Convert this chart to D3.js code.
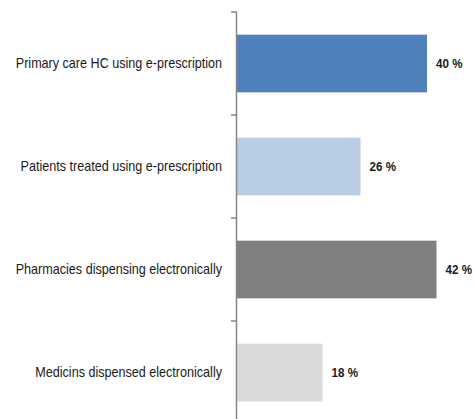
<!DOCTYPE html>
<html>
<head>
<meta charset="utf-8">
<script src="https://cdn.jsdelivr.net/npm/d3@7"></script>
<style>
  html, body { margin: 0; padding: 0; background: #fff; }
  svg { display: block; }
</style>
</head>
<body>
<svg id="chart" width="474" height="419"></svg>
<script>
const categories = [
  "Primary care HC using e-prescription",
  "Patients treated using e-prescription",
  "Pharmacies dispensing electronically",
  "Medicins dispensed electronically"
];
const values = [40, 26, 42, 18];
const barColors = ["#4F81BD", "#B9CDE5", "#808080", "#D9D9D9"];

const svg = d3.select("#chart");
const margin = { top: 12, left: 237 };
const bandStep = 103;
const plotH = bandStep * categories.length;
const narrow = 0.9; // horizontal squeeze to emulate a condensed face

const x = d3.scaleLinear().domain([0, 45]).range([0, 213.75]);
const y = d3.scaleBand().domain(categories).range([0, plotH]).paddingInner(0.44).paddingOuter(0.22);

const g = svg.append("g").attr("transform", `translate(${margin.left},${margin.top})`);

g.selectAll("rect.bar")
  .data(categories)
  .join("rect")
  .attr("class", "bar")
  .attr("x", 0)
  .attr("y", d => y(d))
  .attr("width", (d, i) => x(values[i]))
  .attr("height", y.bandwidth())
  .attr("fill", (d, i) => barColors[i]);

g.selectAll("text.val")
  .data(categories)
  .join("text")
  .attr("class", "val")
  .attr("transform", (d, i) => `translate(${x(values[i]) + 9},${y(d) + y.bandwidth() / 2}) scale(0.93,1)`)
  .attr("dy", "0.35em")
  .attr("font-family", "'Liberation Sans', Arial, sans-serif")
  .attr("font-weight", "bold")
  .attr("font-size", 12.5)
  .attr("fill", "#1a1a1a")
  .text((d, i) => values[i] + " %");

// category axis with ticks on band boundaries
const axisG = g.append("g");
axisG.append("line")
  .attr("x1", -0.5).attr("x2", -0.5)
  .attr("y1", 0).attr("y2", plotH)
  .attr("stroke", "#868686").attr("stroke-width", 1.5);
axisG.selectAll("line.tick")
  .data(d3.range(categories.length + 1))
  .join("line")
  .attr("class", "tick")
  .attr("x1", -6).attr("x2", 0)
  .attr("y1", i => i * bandStep).attr("y2", i => i * bandStep)
  .attr("stroke", "#868686").attr("stroke-width", 1.5);
axisG.selectAll("text.cat")
  .data(categories)
  .join("text")
  .attr("class", "cat")
  .attr("transform", d => `translate(-15,${y(d) + y.bandwidth() / 2}) scale(${narrow},1)`)
  .attr("dy", "0.35em")
  .attr("text-anchor", "end")
  .attr("font-family", "'Liberation Sans', Arial, sans-serif")
  .attr("font-size", 14)
  .attr("fill", "#1a1a1a")
  .text(d => d);
</script>
</body>
</html>
